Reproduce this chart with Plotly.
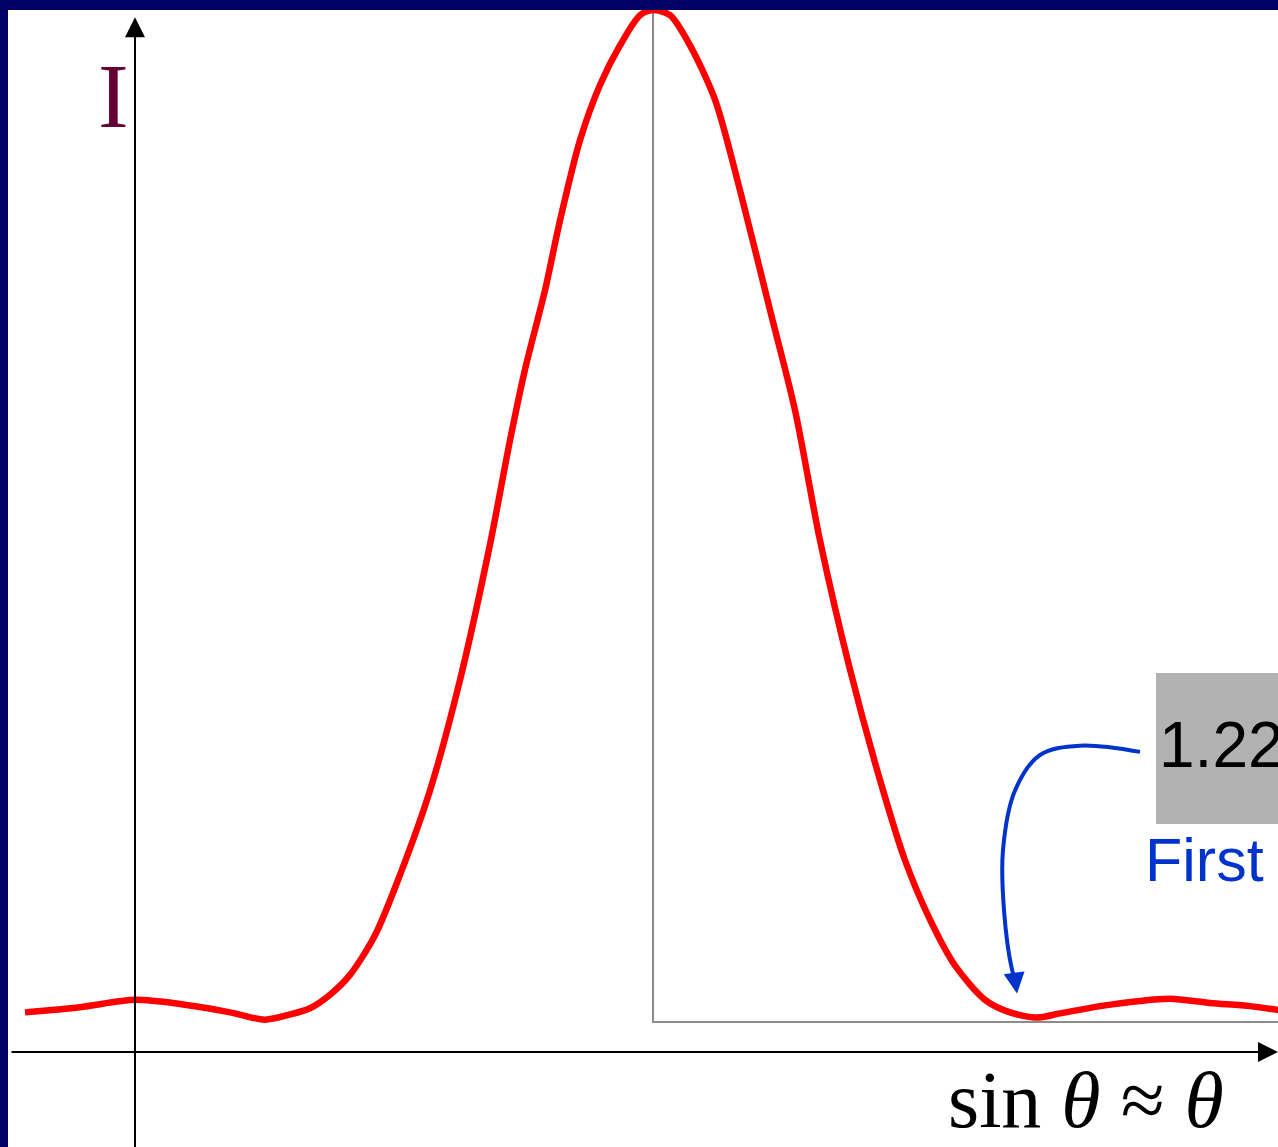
import plotly.graph_objects as go

# Profil d'intensité (tache d'Airy) : position angulaire et intensité (% du pic)
sin_theta = [-1.10, -0.55, 0.00, 0.45, 0.95, 1.30, 1.55, 1.75, 1.95, 2.15, 2.40, 2.65,
             2.95, 3.25, 3.55, 3.75, 3.90, 4.10, 4.25, 4.45, 4.65, 4.85, 5.05, 5.18,
             5.35, 5.55, 5.80, 6.05, 6.35, 6.60, 6.85, 7.15, 7.45, 7.70, 7.95, 8.20,
             8.50, 8.75, 9.02, 9.25, 9.65, 10.05, 10.35, 10.75, 11.15, 11.45]
intensity = [3.8, 4.3, 5.0, 4.6, 3.8, 3.1, 3.6, 4.2, 5.5, 7.4, 11.2, 17.0,
             25.1, 35.7, 48.7, 58.7, 65.5, 73.1, 79.8, 87.5, 92.8, 96.6, 99.5, 100.0,
             99.5, 96.6, 91.4, 82.7, 71.2, 61.6, 49.1, 36.7, 26.1, 18.4, 12.7, 8.3,
             5.0, 3.8, 3.3, 3.7, 4.4, 4.9, 5.1, 4.7, 4.4, 4.0]

# Flèche bleue vers le premier minimum
pointer_x = [10.05, 9.45, 9.05, 8.80, 8.68, 8.69, 8.77, 8.80]
pointer_y = [28.8, 29.4, 28.5, 25.1, 19.4, 13.6, 7.9, 7.0]
first_min = (8.82, 5.6)

W, H = 1278, 1147
NAVY = "#000066"
BLUE = "#0033cc"

fig = go.Figure()

fig.add_trace(go.Scatter(x=pointer_x, y=pointer_y, mode="lines",
                         line=dict(color=BLUE, width=4, shape="spline"),
                         hoverinfo="skip"))
fig.add_trace(go.Scatter(x=sin_theta, y=intensity, mode="lines",
                         line=dict(color="#ff0000", width=6.5, shape="spline", smoothing=0.8),
                         hoverinfo="skip"))

# Cadre gris à droite du pic
fig.add_shape(type="rect", xref="x", yref="y", x0=5.18, x1=11.6, y0=2.88, y1=100.5,
              line=dict(color="#8c8c8c", width=2), layer="below")

# Boîte grise "1.22"
fig.add_shape(type="rect", xref="paper", yref="paper",
              x0=1156 / W, x1=1.02, y0=1 - 824 / H, y1=1 - 673 / H,
              line=dict(width=0), fillcolor="#b2b2b2", layer="below")

# Bordures bleu marine (style diapositive)
fig.add_shape(type="rect", xref="paper", yref="paper", x0=0, x1=8 / W, y0=0, y1=1,
              line=dict(width=0), fillcolor=NAVY, layer="above")
fig.add_shape(type="rect", xref="paper", yref="paper", x0=0, x1=1, y0=1 - 10 / H, y1=1,
              line=dict(width=0), fillcolor=NAVY, layer="above")

# Axes avec flèches
arrow = dict(showarrow=True, text="", xref="x", yref="y", axref="x", ayref="y",
             arrowhead=2, arrowsize=2, arrowwidth=2, arrowcolor="black", standoff=0)
fig.add_annotation(x=0, y=99.3, ax=0, ay=-10, **arrow)
fig.add_annotation(x=11.43, y=0, ax=-1.25, ay=0, **arrow)

# Pointe de la flèche bleue
fig.add_annotation(x=first_min[0], y=first_min[1], ax=pointer_x[-1], ay=pointer_y[-1],
                   showarrow=True, text="", xref="x", yref="y", axref="x", ayref="y",
                   arrowhead=2, arrowsize=1.4, arrowwidth=3, arrowcolor=BLUE, standoff=0)

# Textes
fig.add_annotation(x=-0.22, y=91.7, text="I", showarrow=False, xref="x", yref="y",
                   font=dict(family="Liberation Serif, Times New Roman, serif", size=92,
                             color="#660033"))
fig.add_annotation(x=9.51, y=-4.6, text="sin <i>θ</i> ≈ <i>θ</i>", showarrow=False,
                   xref="x", yref="y",
                   font=dict(family="Liberation Serif, Times New Roman, serif", size=80,
                             color="black"))
fig.add_annotation(x=10.22, y=29.5, text="1.22", showarrow=False, xref="x", yref="y",
                   xanchor="left",
                   font=dict(family="Liberation Sans, Arial, sans-serif", size=64,
                             color="black"))
fig.add_annotation(x=10.08, y=18.4, text="First", showarrow=False, xref="x", yref="y",
                   xanchor="left",
                   font=dict(family="Liberation Sans, Arial, sans-serif", size=61,
                             color=BLUE))

fig.update_xaxes(range=[-1.35, 11.43], visible=False)
fig.update_yaxes(range=[-9.12, 100.96], visible=False)
fig.update_layout(width=W, height=H, margin=dict(l=0, r=0, t=0, b=0),
                  plot_bgcolor="white", paper_bgcolor="white", showlegend=False)

fig.write_html("out.html", config={"displayModeBar": False},
               post_script="document.body.style.margin='0';")
